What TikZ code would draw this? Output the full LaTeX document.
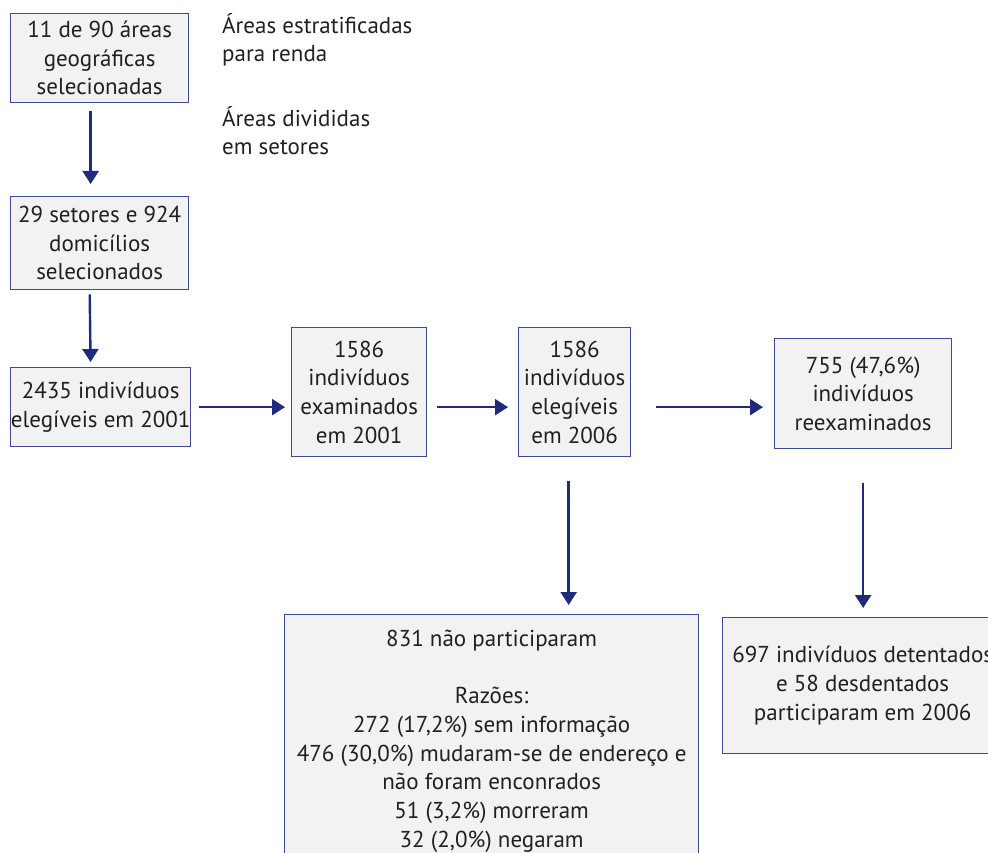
\documentclass[tikz,border=0pt]{standalone}
\usepackage{fontspec}
\setmainfont{PT Sans}
\usepackage{xcolor}
\usetikzlibrary{arrows.meta,calc}
\definecolor{navy}{HTML}{1F2A78}
\definecolor{borda}{HTML}{3D4A96}
\definecolor{fundo}{HTML}{F2F2F2}
\definecolor{texto}{HTML}{231F20}

\begin{document}
\begin{tikzpicture}[x=1pt,y=-1pt,
        every node/.style={font=\fontsize{23}{28.7}\selectfont,text=texto},
        box/.style={draw=borda,fill=fundo,line width=1.3pt,align=center,inner sep=0pt,anchor=north west},
        seta/.style={draw=navy,line width=2.4pt,-{Triangle[width=16pt,length=13pt]}}]
            \useasboundingbox (0,0) rectangle (988,853);
            \clip (0,0) rectangle (988,853);

            \node[box,minimum width=178,minimum height=89] (a) at (10,13) {11 de 90 áreas\\geográficas\\selecionadas};
            \node[box,minimum width=178,minimum height=93] (b) at (10,196) {29 setores e 924\\domicílios\\selecionados};
            \node[box,minimum width=180,minimum height=79] (c) at (10,367) {2435 indivíduos\\elegíveis em 2001};
            \node[box,minimum width=135,minimum height=129] (d) at (291,327) {1586\\indivíduos\\examinados\\em 2001};
            \node[box,minimum width=112,minimum height=129] (e) at (518,327) {1586\\indivíduos\\elegíveis\\em 2006};
            \node[box,minimum width=177,minimum height=110] (f) at (774,338) {755 (47,6\%)\\indivíduos\\reexaminados};
            \node[box,minimum width=414,minimum height=253] (g) at (284,614) {831 não participaram\\[28.7pt]Razões:\\272 (17,2\%) sem informação\\476 (30,0\%) mudaram-se de endereço e\\não foram enconrados\\51 (3,2\%) morreram\\32 (2,0\%) negaram};
            \node[box,minimum width=280,minimum height=136] (h) at (722,617) {697 indivíduos detentados\\e 58 desdentados\\participaram em 2006};

            \node[anchor=base west,align=left,inner sep=0pt] (renda) at (222,62) {Áreas estratificadas\\para renda};
            \node[anchor=base west,align=left,inner sep=0pt] (setores) at (222,155) {Áreas divididas\\em setores};

            \draw[seta,shorten <=8pt,shorten >=12pt] ([xshift=-9pt]a.south) -- ([xshift=-9pt]b.north);
            \draw[seta,shorten <=4pt,shorten >=5pt] ([xshift=-10pt]b.south) -- ([xshift=-10pt]c.north);
            \draw[seta,shorten <=8pt,shorten >=6pt] (c.east) -- (c.east -| d.west);
            \draw[seta,shorten <=10pt,shorten >=10pt] (d.east |- c.east) -- (c.east -| e.west);
            \draw[seta,shorten <=25pt,shorten >=11pt] (e.east |- c.east) -- (c.east -| f.west);
            \draw[seta,shorten <=24pt,shorten >=9pt] ([xshift=-6pt]e.south) -- ([xshift=-6pt]e.south |- g.north);
            \draw[seta,shorten <=34pt,shorten >=9pt] (f.south) -- (f.south |- h.north);
        \end{tikzpicture}
\end{document}
